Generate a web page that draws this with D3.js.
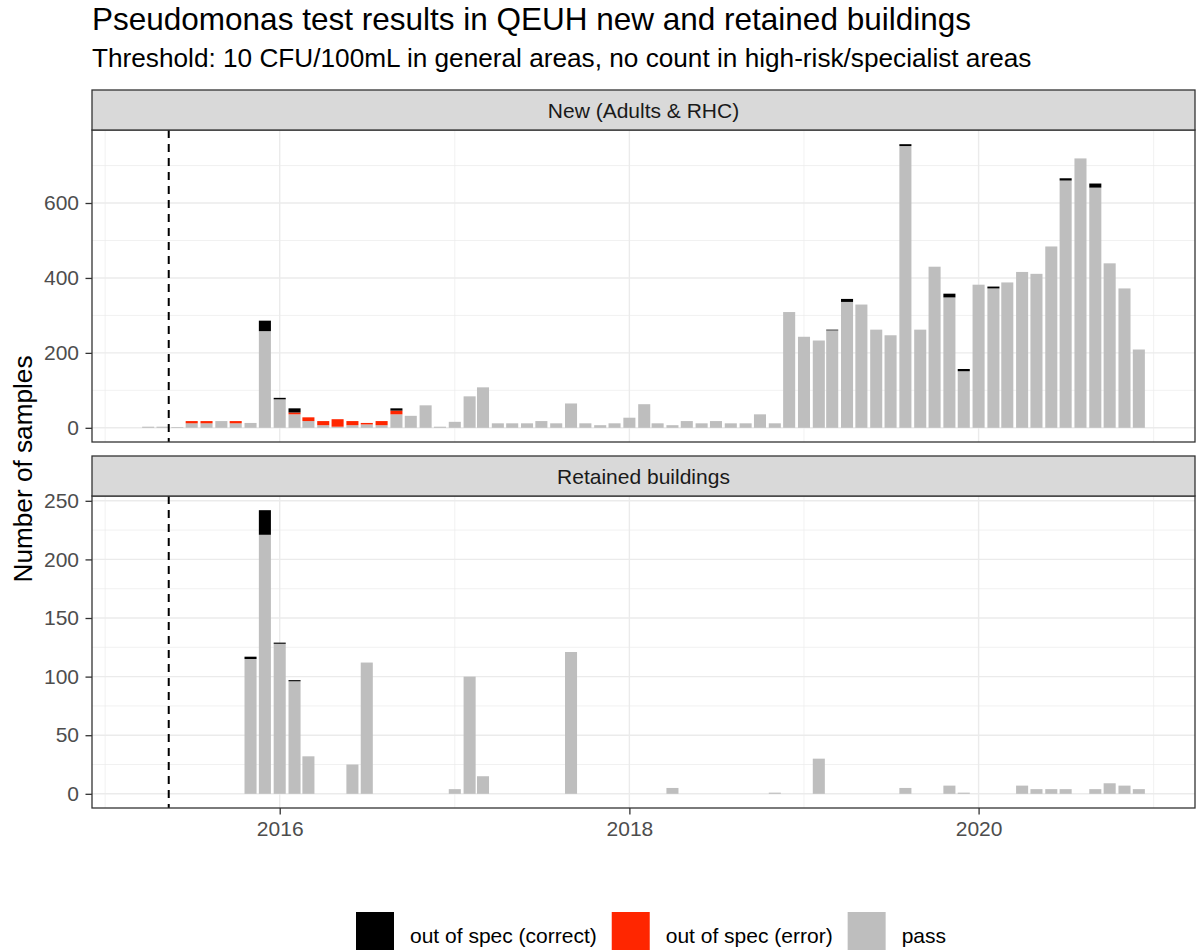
<!DOCTYPE html>
<html><head><meta charset="utf-8">
<script src="https://cdn.jsdelivr.net/npm/d3@7"></script>
<style>
body{margin:0;background:#fff;}
svg{display:block;font-family:"Liberation Sans",Arial,Helvetica,sans-serif;}
</style>
</head><body>
<svg id="chart" width="1196" height="950"></svg>
<script>
// ---- categories (months) ----
const months = [
 "2015-04","2015-05","2015-06","2015-07","2015-08","2015-09","2015-10","2015-11","2015-12",
 "2016-01","2016-02","2016-03","2016-04","2016-05","2016-06","2016-07","2016-08","2016-09","2016-10","2016-11","2016-12",
 "2017-01","2017-02","2017-03","2017-04","2017-05","2017-06","2017-07","2017-08","2017-09","2017-10","2017-11","2017-12",
 "2018-01","2018-02","2018-03","2018-04","2018-05","2018-06","2018-07","2018-08","2018-09","2018-10","2018-11","2018-12",
 "2019-01","2019-02","2019-03","2019-04","2019-05","2019-06","2019-07","2019-08","2019-09","2019-10","2019-11","2019-12",
 "2020-01","2020-02","2020-03","2020-04","2020-05","2020-06","2020-07","2020-08","2020-09","2020-10","2020-11","2020-12"
];

// ---- New (Adults & RHC) ----
const newPass = [
 3,3,2,12,12,18,12,13,258,
 76,36,18,7,3,7,9,7,36,32,60,3,
 16,84,108,12,12,12,18,12,65,12,7,12,
 27,63,12,7,18,12,18,12,12,36,12,309,
 243,233,260,336,329,262,247,752,262,430,348,151,
 382,372,388,416,411,484,660,719,641,439,372,209
];
const newError = [
 0,0,0,6,6,0,6,0,0,
 0,5,10,11,20,11,4,11,10,0,0,0,
 0,0,0,0,0,0,0,0,0,0,0,0,
 0,0,0,0,0,0,0,0,0,0,0,0,
 0,0,0,0,0,0,0,0,0,0,0,0,
 0,0,0,0,0,0,0,0,0,0,0,0
];
const newCorrect = [
 0,0,0,0,0,0,0,0,28,
 4,11,0,0,0,0,0,0,6,0,0,0,
 0,0,0,0,0,0,0,0,0,0,0,0,
 0,0,0,0,0,0,0,0,0,0,0,0,
 0,0,2,8,0,0,0,5,0,0,10,6,
 0,5,0,0,0,0,6,0,11,0,0,0
];

// ---- Retained buildings ----
const retPass = [
 0,0,0,0,0,0,0,115,221,
 128,96,32,0,0,25,112,0,0,0,0,0,
 4,100,15,0,0,0,0,0,121,0,0,0,
 0,0,0,5,0,0,0,0,0,0,1,0,
 0,30,0,0,0,0,0,5,0,0,7,1,
 0,0,0,7,4,4,4,0,4,9,7,4
];
const retError = months.map(() => 0);
const retCorrect = [
 0,0,0,0,0,0,0,2,21,
 1,1,0,0,0,0,0,0,0,0,0,0,
 0,0,0,0,0,0,0,0,0,0,0,0,
 0,0,0,0,0,0,0,0,0,0,0,0,
 0,0,0,0,0,0,0,0,0,0,0,0,
 0,0,0,0,0,0,0,0,0,0,0,0
];

// ---- labels / ticks ----
const facetNames = ["New (Adults & RHC)", "Retained buildings"];
const newTicks = [0, 200, 400, 600];
const retTicks = [0, 50, 100, 150, 200, 250];
const xMajorYears = ["2016", "2018", "2020"];
const xMinorYears = ["2015", "2017", "2019", "2021"];
const vlineDate = "2015-05-14";
const seriesKeys = ["pass", "error", "correct"];
const legendLabels = ["out of spec (correct)", "out of spec (error)", "pass"];
const legendKeys = ["correct", "error", "pass"];
const colors = {correct: "#000000", error: "#ff2600", pass: "#bebebe"};
const titleText = "Pseudomonas test results in QEUH new and retained buildings";
const subtitleText = "Threshold: 10 CFU/100mL in general areas, no count in high-risk/specialist areas";
const yTitle = "Number of samples";

// ---- layout ----
const svg = d3.select("#chart");
const PL = 92, PR = 1195;
const parseM = d3.timeParse("%Y-%m");
const parseD = d3.timeParse("%Y-%m-%d");
const parseY = d3.timeParse("%Y");
const dates = months.map(parseM);
const DAY = 864e5;
const halfW = 0.45 * 28 * DAY;
const xmin = +d3.min(dates) - halfW, xmax = +d3.max(dates) + halfW;
const span = xmax - xmin;
const x = d3.scaleTime()
  .domain([new Date(xmin - 0.05 * span), new Date(xmax + 0.05 * span)])
  .range([PL, PR]);

const facets = [
  {name: facetNames[0], pass: newPass, error: newError, correct: newCorrect,
   stripTop: 90, top: 130, bottom: 442, ticks: newTicks},
  {name: facetNames[1], pass: retPass, error: retError, correct: retCorrect,
   stripTop: 456, top: 496, bottom: 808, ticks: retTicks}
];

// title
svg.append("text").attr("x", 92).attr("y", 30)
  .attr("font-size", 31.5).attr("fill", "#000").text(titleText);
svg.append("text").attr("x", 92).attr("y", 67)
  .attr("font-size", 26.2).attr("fill", "#000").text(subtitleText);

facets.forEach((f, fi) => {
  const rows = months.map((m, i) => ({date: dates[i], pass: f.pass[i], error: f.error[i], correct: f.correct[i]}));
  const maxT = d3.max(rows, d => d.pass + d.error + d.correct);
  const y = d3.scaleLinear().domain([-0.05 * maxT, 1.05 * maxT]).range([f.bottom, f.top]);
  const g = svg.append("g");

  // panel background
  g.append("rect").attr("x", PL).attr("y", f.top).attr("width", PR - PL).attr("height", f.bottom - f.top).attr("fill", "#fff");

  // minor grid
  const step = f.ticks[1] - f.ticks[0];
  const yMinor = f.ticks.map(t => t + step / 2).filter(v => v <= y.domain()[1]);
  g.selectAll(".ymin").data(yMinor).join("line")
    .attr("x1", PL).attr("x2", PR).attr("y1", d => y(d)).attr("y2", d => y(d))
    .attr("stroke", "#ebebeb").attr("stroke-width", 0.7);
  g.selectAll(".xmin").data(xMinorYears.map(parseY)).join("line")
    .attr("x1", d => x(d)).attr("x2", d => x(d)).attr("y1", f.top).attr("y2", f.bottom)
    .attr("stroke", "#ebebeb").attr("stroke-width", 0.7);
  // major grid
  g.selectAll(".ymaj").data(f.ticks).join("line")
    .attr("x1", PL).attr("x2", PR).attr("y1", d => y(d)).attr("y2", d => y(d))
    .attr("stroke", "#ebebeb").attr("stroke-width", 1.4);
  g.selectAll(".xmaj").data(xMajorYears.map(parseY)).join("line")
    .attr("x1", d => x(d)).attr("x2", d => x(d)).attr("y1", f.top).attr("y2", f.bottom)
    .attr("stroke", "#ebebeb").attr("stroke-width", 1.4);

  // stacked bars
  const stack = d3.stack().keys(seriesKeys)(rows);
  stack.forEach(layer => {
    g.append("g").selectAll("rect").data(layer.filter(d => d[1] - d[0] > 0)).join("rect")
      .attr("x", d => x(new Date(+d.data.date - halfW)))
      .attr("width", d => x(new Date(+d.data.date + halfW)) - x(new Date(+d.data.date - halfW)))
      .attr("y", d => y(d[1]))
      .attr("height", d => y(d[0]) - y(d[1]))
      .attr("fill", colors[layer.key]);
  });

  // dashed vline
  g.append("line")
    .attr("x1", x(parseD(vlineDate))).attr("x2", x(parseD(vlineDate)))
    .attr("y1", f.top).attr("y2", f.bottom)
    .attr("stroke", "#000").attr("stroke-width", 2).attr("stroke-dasharray", "8,6");

  // panel border
  g.append("rect").attr("x", PL).attr("y", f.top).attr("width", PR - PL).attr("height", f.bottom - f.top)
    .attr("fill", "none").attr("stroke", "#333").attr("stroke-width", 1.3);

  // strip
  g.append("rect").attr("x", PL).attr("y", f.stripTop).attr("width", PR - PL).attr("height", f.top - f.stripTop)
    .attr("fill", "#d9d9d9").attr("stroke", "#333").attr("stroke-width", 1.3);
  g.append("text").attr("x", (PL + PR) / 2).attr("y", (f.stripTop + f.top) / 2)
    .attr("dy", "0.36em").attr("text-anchor", "middle")
    .attr("font-size", 21).attr("fill", "#1a1a1a").text(f.name);

  // y axis
  const ya = g.append("g").attr("transform", `translate(${PL},0)`)
    .call(d3.axisLeft(y).tickValues(f.ticks).tickSize(6.5).tickPadding(6.5));
  ya.select(".domain").remove();
  ya.selectAll(".tick line").attr("stroke", "#333").attr("stroke-width", 1.3);
  ya.selectAll(".tick text").attr("font-size", 21).attr("fill", "#4d4d4d")
    .attr("font-family", '"Liberation Sans",Arial,Helvetica,sans-serif');

  // x axis on bottom facet only
  if (fi === facets.length - 1) {
    const xa = g.append("g").attr("transform", `translate(0,${f.bottom})`)
      .call(d3.axisBottom(x).tickValues(xMajorYears.map(parseY)).tickFormat(d3.timeFormat("%Y")).tickSize(6.5).tickPadding(6.5));
    xa.select(".domain").remove();
    xa.selectAll(".tick line").attr("stroke", "#333").attr("stroke-width", 1.3);
    xa.selectAll(".tick text").attr("font-size", 21).attr("fill", "#4d4d4d")
      .attr("font-family", '"Liberation Sans",Arial,Helvetica,sans-serif');
  }
});

// y axis title
svg.append("text").attr("transform", `translate(32,${(130 + 808) / 2}) rotate(-90)`)
  .attr("text-anchor", "middle").attr("font-size", 26.2).attr("fill", "#000").text(yTitle);

// legend
let lx = 356;
const lg = svg.append("g");
legendKeys.forEach((k, i) => {
  lg.append("rect").attr("x", lx).attr("y", 912).attr("width", 38).attr("height", 41).attr("fill", colors[k]);
  const t = lg.append("text").attr("x", lx + 38 + 16).attr("y", 943)
    .attr("font-size", 21).attr("fill", "#000").text(legendLabels[i]);
  lx = lx + 38 + 16 + t.node().getComputedTextLength() + 15;
});
</script>
</body></html>
